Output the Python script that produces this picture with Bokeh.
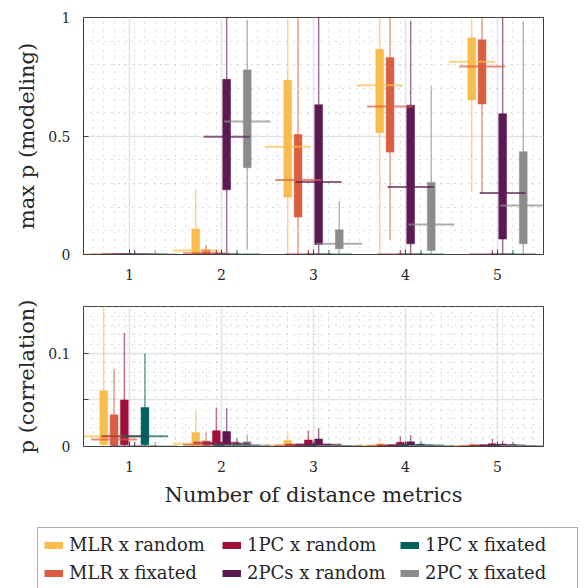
import numpy as np
from bokeh.plotting import figure
from bokeh.layouts import column
from bokeh.models import (Range1d, FixedTicker, Legend, LegendItem, ColumnDataSource)
from bokeh.embed import file_html
from bokeh.resources import INLINE

# ---------------- data ----------------
GROUPS = [1, 2, 3, 4, 5]
SERIES = ["MLR x random", "MLR x fixated", "1PC x random",
          "2PCs x random", "1PC x fixated", "2PC x fixated"]
COLORS = ["#F9BD4E", "#DC5E40", "#A0103A", "#5C1A55", "#00625F", "#8C8C8C"]

# top panel: max p (modeling); rows = series, columns = groups 1..5
TOP_LO = [[0, 0, 0, 0, 0.266],
          [0, 0, 0, 0.062, 0.26],
          [0, 0, 0, 0, 0],
          [0, 0.01, 0, 0, 0],
          [0, 0, 0, 0, 0],
          [0, 0.02, 0, 0, 0]]
TOP_Q1 = [[0, 0, 0.242, 0.514, 0.652],
          [0, 0, 0.158, 0.432, 0.635],
          [0, 0, 0, 0, 0],
          [0, 0.273, 0.042, 0.045, 0.065],
          [0, 0, 0, 0, 0],
          [0, 0.366, 0.024, 0.017, 0.045]]
TOP_MED = [[0, 0.017, 0.455, 0.714, 0.813],
           [0, 0.005, 0.314, 0.624, 0.793],
           [0, 0, 0, 0, 0],
           [0, 0.497, 0.306, 0.285, 0.26],
           [0, 0, 0, 0, 0],
           [0, 0.561, 0.045, 0.127, 0.207]]
TOP_Q3 = [[0, 0.108, 0.735, 0.866, 0.914],
          [0, 0.02, 0.506, 0.831, 0.906],
          [0, 0, 0, 0, 0],
          [0, 0.739, 0.632, 0.630, 0.594],
          [0, 0, 0, 0, 0],
          [0, 0.779, 0.104, 0.304, 0.434]]
TOP_HI = [[0, 0.275, 1.0, 1.0, 1.0],
          [0, 0.04, 1.0, 1.0, 1.0],
          [0, 0, 0, 0, 0],
          [0, 1.0, 1.0, 0.986, 1.0],
          [0, 0, 0, 0, 0],
          [0, 0.99, 0.225, 0.71, 0.982]]
TOP_OUT_GROUP = [1, 1, 2, 2, 3, 3, 4, 4, 5, 5]
TOP_OUT_SERIES = [3, 5, 2, 4, 2, 4, 2, 4, 2, 4]
TOP_OUT_VALUE = [0, 0, 0, 0, 0, 0, 0, 0, 0, 0]

# bottom panel: p (correlation)
BOT_LO = [[0, 0, 0, 0, 0],
          [0, 0, 0, 0, 0],
          [0, 0, 0, 0, 0],
          [0, 0, 0, 0, 0],
          [0, 0, 0, 0, 0],
          [0, 0, 0, 0, 0]]
BOT_Q1 = [[0.002, 0.001, 0.0003, 0.0003, 0.0002],
          [0.001, 0.0005, 0.0002, 0.0002, 0.0002],
          [0.002, 0.001, 0.0005, 0.0003, 0.0003],
          [0, 0.001, 0.0005, 0.0003, 0.0003],
          [0.002, 0.0003, 0.0002, 0.0002, 0.0002],
          [0, 0.0003, 0.0002, 0.0002, 0.0002]]
BOT_MED = [[0.011, 0.003, 0.001, 0.001, 0.0005],
           [0.0076, 0.002, 0.001, 0.0005, 0.0005],
           [0.011, 0.004, 0.002, 0.001, 0.001],
           [0, 0.003, 0.002, 0.001, 0.001],
           [0.011, 0.001, 0.0005, 0.001, 0.0005],
           [0, 0.001, 0.0005, 0.0005, 0.0005]]
BOT_Q3 = [[0.060, 0.015, 0.0065, 0.003, 0.002],
          [0.034, 0.006, 0.001, 0.001, 0.001],
          [0.050, 0.017, 0.007, 0.0045, 0.003],
          [0, 0.016, 0.008, 0.005, 0.0025],
          [0.042, 0.003, 0.001, 0.0025, 0.002],
          [0, 0.005, 0.001, 0.001, 0.001]]
BOT_HI = [[0.16, 0.038, 0.016, 0.008, 0.005],
          [0.083, 0.015, 0.003, 0.002, 0.003],
          [0.122, 0.042, 0.017, 0.011, 0.008],
          [0, 0.041, 0.020, 0.012, 0.0065],
          [0.100, 0.009, 0.003, 0.006, 0.005],
          [0, 0.013, 0.002, 0.002, 0.002]]
BOT_OUT_GROUP = [1, 1]
BOT_OUT_SERIES = [3, 5]
BOT_OUT_VALUE = [0, 0]

X_TICKS = GROUPS
TOP_Y_TICKS = [0, 0.5, 1]
BOT_Y_TICKS = [0, 0.05, 0.1]

# ---------------- styling ----------------
FONT = "DejaVu Serif"
TXT = "#262626"
OFFSETS = np.array([-0.28, -0.168, -0.056, 0.056, 0.168, 0.28])
BOX_W = 0.085
MED_HALF = 0.25


def make_panel(height, border_top, border_bottom, y_end, y_ticks, y_minor,
               y_label, lo, q1, med, q3, hi, og, os_, ov, y_overrides=None,
               x_label=None):
    p = figure(width=586, height=height, output_backend="svg", toolbar_location=None,
               x_range=Range1d(0.5, 5.5), y_range=Range1d(0, y_end),
               min_border_left=83, min_border_right=43,
               min_border_top=border_top, min_border_bottom=border_bottom,
               background_fill_color="white", border_fill_color="white")
    p.outline_line_color = "#404040"
    p.outline_line_width = 1

    x_minor = list(np.linspace(0.5, 5.5, 46))
    p.xaxis.ticker = FixedTicker(ticks=X_TICKS, minor_ticks=x_minor)
    p.yaxis.ticker = FixedTicker(ticks=y_ticks, minor_ticks=y_minor)
    if y_overrides:
        p.yaxis.major_label_overrides = y_overrides

    for ax in [p.xaxis[0], p.yaxis[0]]:
        ax.axis_line_color = "#404040"
        ax.major_tick_in = 5
        ax.major_tick_out = 0
        ax.major_tick_line_color = "#404040"
        ax.minor_tick_line_color = None
        ax.major_label_text_font = FONT
        ax.major_label_text_font_size = "14px"
        ax.major_label_text_color = TXT
        ax.axis_label_text_font = FONT
        ax.axis_label_text_font_size = "21px"
        ax.axis_label_text_font_style = "normal"
        ax.axis_label_text_color = TXT
    p.xaxis.major_label_standoff = 10
    p.yaxis.major_label_standoff = 9
    p.yaxis.axis_label = y_label
    p.yaxis.axis_label_standoff = 6
    if x_label:
        p.xaxis.axis_label = x_label
        p.xaxis.axis_label_standoff = 8

    for g in [p.xgrid[0], p.ygrid[0]]:
        g.grid_line_color = "#e3e3e3"
        g.grid_line_width = 1.5
        g.minor_grid_line_color = "#b8b8b8"
        g.minor_grid_line_dash = "1 6"
        g.minor_grid_line_width = 1

    # whiskers
    for s in range(len(SERIES)):
        xs = np.array(GROUPS) + OFFSETS[s]
        src = ColumnDataSource(dict(x=xs, lo=lo[s], hi=hi[s]))
        p.segment(x0="x", x1="x", y0="lo", y1="hi", source=src,
                  line_color=COLORS[s], line_alpha=0.6, line_width=1.5)
    # boxes
    for s in range(len(SERIES)):
        xs = np.array(GROUPS) + OFFSETS[s]
        src = ColumnDataSource(dict(x=xs, q1=q1[s], q3=q3[s]))
        p.vbar(x="x", bottom="q1", top="q3", width=BOX_W, source=src,
               fill_color=COLORS[s], line_color=COLORS[s], line_alpha=0.5,
               line_width=1)
    # medians
    for s in range(len(SERIES)):
        xs = np.array(GROUPS) + OFFSETS[s]
        src = ColumnDataSource(dict(x0=xs - MED_HALF, x1=xs + MED_HALF, med=med[s]))
        p.segment(x0="x0", x1="x1", y0="med", y1="med", source=src,
                  line_color=COLORS[s], line_alpha=0.7, line_width=2)
    # outliers
    ox = [g + OFFSETS[s] for g, s in zip(og, os_)]
    oc = [COLORS[s] for s in os_]
    p.scatter(x=ox, y=ov, marker="cross", size=9, line_color=oc, line_width=1.2,
              line_alpha=0.8)
    return p


p1 = make_panel(290, 17, 36, 1.0, TOP_Y_TICKS, list(np.arange(0, 1.001, 0.1)),
                "max p (modeling)", TOP_LO, TOP_Q1, TOP_MED, TOP_Q3, TOP_HI,
                TOP_OUT_GROUP, TOP_OUT_SERIES, TOP_OUT_VALUE)
p2 = make_panel(230, 16, 74, 0.1505, BOT_Y_TICKS, list(np.arange(0, 0.1501, 0.01)),
                "p (correlation)", BOT_LO, BOT_Q1, BOT_MED, BOT_Q3, BOT_HI,
                BOT_OUT_GROUP, BOT_OUT_SERIES, BOT_OUT_VALUE,
                y_overrides={0.05: ""}, x_label="Number of distance metrics")

# legend strip: its renderers use the median data but lie outside the visible range
p3 = figure(width=586, height=68, output_backend="svg", toolbar_location=None,
            x_range=Range1d(-20, -19), y_range=Range1d(-20, -19),
            x_axis_type=None, y_axis_type=None,
            min_border=0, background_fill_color="white", border_fill_color="white")
p3.outline_line_color = None
p3.frame_align = False
items = []
for s, (name, c) in enumerate(zip(SERIES, COLORS)):
    r = p3.line(x=GROUPS, y=BOT_MED[s], line_color=c, line_width=7, line_cap="butt")
    items.append(LegendItem(label=name, renderers=[r]))
leg = Legend(items=items, nrows=2, location=(37, -2), orientation="vertical",
             label_text_font=FONT, label_text_font_size="18px", label_text_color=TXT,
             glyph_width=19, glyph_height=8, label_standoff=6, label_height=20,
             label_width=146, spacing=7, padding=6, margin=0,
             border_line_color="#5a5a5a", border_line_width=1,
             background_fill_color="white", background_fill_alpha=1.0)
p3.add_layout(leg)

layout = column(p1, p2, p3, spacing=0)
open("out.html", "w").write(file_html(layout, INLINE))
